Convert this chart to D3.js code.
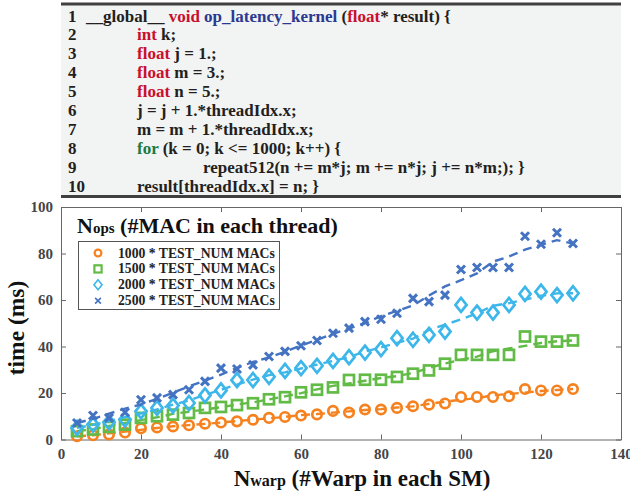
<!DOCTYPE html>
<html>
<head>
<meta charset="utf-8">
<script src="https://cdnjs.cloudflare.com/ajax/libs/d3/7.8.5/d3.min.js"></script>
<style>
  body { margin: 0; background: #fff; }
  text { font-family: "Liberation Serif", "Times New Roman", serif; font-weight: bold; }
</style>
</head>
<body>
<script>
  // ---- data ----
  const warps = [4, 8, 12, 16, 20, 24, 28, 32, 36, 40, 44, 48, 52, 56, 60, 64,
                 68, 72, 76, 80, 84, 88, 92, 96, 100, 104, 108, 112, 116, 120, 124, 128];
  const mac1000 = [1.4, 1.8, 2.2, 3.0, 4.8, 5.2, 5.6, 6.1, 6.8, 7.3, 7.8, 8.5, 9.3, 9.7, 10.3, 10.8,
                   12.3, 11.6, 12.9, 12.9, 13.6, 14.3, 15.0, 15.5, 18.3, 18.3, 18.3, 18.6, 21.7, 21.1, 21.1, 21.7];
  const mac1500 = [3.6, 4.3, 5.4, 6.4, 9.3, 10.0, 10.7, 11.4, 13.6, 14.0, 14.8, 15.6, 17.3, 18.2, 20.3, 21.4,
                   22.4, 25.6, 25.7, 25.7, 26.9, 28.3, 29.7, 32.6, 36.4, 36.4, 36.4, 36.4, 44.3, 42.1, 42.1, 42.6];
  const mac2000 = [5.0, 6.4, 7.4, 8.6, 12.1, 13.6, 14.6, 15.7, 19.0, 21.1, 25.5, 25.6, 27.0, 29.5, 30.7, 31.7,
                   33.8, 35.4, 37.4, 38.9, 43.6, 42.9, 45.0, 46.4, 57.9, 54.6, 54.6, 57.9, 62.6, 63.6, 62.1, 62.9];
  const mac2500 = [7.1, 10.3, 9.3, 11.7, 17.1, 17.9, 19.3, 21.4, 25.0, 30.7, 30.3, 32.1, 35.7, 37.9, 40.3, 42.6,
                   45.7, 47.9, 50.7, 51.7, 54.3, 60.7, 59.3, 62.1, 73.1, 74.0, 74.0, 74.0, 87.4, 84.0, 88.9, 84.3];
  const seriesNames = ["1000 * TEST_NUM MACs", "1500 * TEST_NUM MACs", "2000 * TEST_NUM MACs", "2500 * TEST_NUM MACs"];
  const xTicks = [0, 20, 40, 60, 80, 100, 120, 140];
  const yTicks = [0, 20, 40, 60, 80, 100];

  const K = "#231f20", R = "#c8102e", B = "#2b3990", G = "#1b7a3e";
  const codeLines = [
    [0, [["__global__ ", K], ["void ", R], ["op_latency_kernel ", B], ["(", K], ["float", R], ["* result) {", K]]],
    [1, [["int ", R], ["k;", K]]],
    [1, [["float ", R], ["j = 1.;", K]]],
    [1, [["float ", R], ["m = 3.;", K]]],
    [1, [["float ", R], ["n = 5.;", K]]],
    [1, [["j = j + 1.*threadIdx.x;", K]]],
    [1, [["m = m + 1.*threadIdx.x;", K]]],
    [1, [["for ", G], ["(k = 0; k <= 1000; k++) {", K]]],
    [2, [["repeat512(n += m*j; m += n*j; j += n*m;); }", K]]],
    [1, [["result[threadIdx.x] = n; }", K]]]
  ];

  const colors = ["#f5821f", "#62bb46", "#3db7ea", "#4473c2"];
  const series = [mac1000, mac1500, mac2000, mac2500];

  const svg = d3.select("body").append("svg")
    .attr("width", 630).attr("height", 496);

  // ---- code listing ----
  const code = svg.append("g");
  code.append("rect").attr("x", 61).attr("y", 4).attr("width", 560).attr("height", 193)
    .attr("fill", "#f2f3f3");
  code.append("line").attr("x1", 61).attr("x2", 621).attr("y1", 4).attr("y2", 4)
    .attr("stroke", "#404040").attr("stroke-width", 3);
  code.append("line").attr("x1", 61).attr("x2", 621).attr("y1", 196.5).attr("y2", 196.5)
    .attr("stroke", "#404040").attr("stroke-width", 3);
  const indents = [86, 137, 203];
  codeLines.forEach((ln, i) => {
    const yy = 21.5 + i * 18.9;
    code.append("text").attr("x", 68).attr("y", yy).attr("font-size", 17)
      .attr("fill", K).text(i + 1);
    const t = code.append("text").attr("x", indents[ln[0]]).attr("y", yy)
      .attr("font-size", 17).attr("xml:space", "preserve");
    ln[1].forEach(p => t.append("tspan").attr("fill", p[1]).text(p[0]));
  });

  // ---- chart ----
  const x = d3.scaleLinear().domain([0, 140]).range([61, 621]);
  const y = d3.scaleLinear().domain([0, 100]).range([439.5, 207]);
  const axisCol = "#666";

  svg.append("g").attr("transform", `translate(0,${y(0)})`)
    .call(d3.axisBottom(x).tickValues(xTicks).tickSizeInner(-5).tickSizeOuter(0).tickPadding(9));
  svg.append("g").attr("transform", `translate(${x(0)},0)`)
    .call(d3.axisLeft(y).tickValues(yTicks).tickSizeInner(-5).tickSizeOuter(0).tickPadding(8));
  svg.append("g").attr("transform", `translate(0,${y(100)})`)
    .call(d3.axisTop(x).tickValues(xTicks).tickSizeInner(-5).tickSizeOuter(0).tickFormat(""));
  svg.append("g").attr("transform", `translate(${x(140)},0)`)
    .call(d3.axisRight(y).tickValues(yTicks).tickSizeInner(-5).tickSizeOuter(0).tickFormat(""));
  svg.selectAll(".domain").attr("stroke", axisCol);
  svg.selectAll(".tick line").attr("stroke", axisCol);
  svg.selectAll(".tick text").attr("font-family", "Liberation Serif").attr("font-weight", "bold")
    .attr("font-size", 15).attr("fill", "#454545");

  // MATLAB-style 5 point moving average for the dashed trend lines
  function smooth(v) {
    return v.map((_, i) => {
      const h = Math.min(2, i, v.length - 1 - i);
      let s = 0;
      for (let j = i - h; j <= i + h; j++) s += v[j];
      return s / (2 * h + 1);
    });
  }

  const diamond = "M0,-7L5.6,0L0,7L-5.6,0Z";
  const cross = "M-4,-4L4,4M-4,4L4,-4";
  function marker(g, k, scale) {
    const s = scale || 1;
    if (k === 0) g.append("circle").attr("r", 4.7 * s);
    else if (k === 1) g.append("rect").attr("x", -5 * s).attr("y", -5 * s)
      .attr("width", 10 * s).attr("height", 10 * s);
    else if (k === 2) g.append("path").attr("d", diamond).attr("transform", `scale(${s})`);
    else g.append("path").attr("d", cross).attr("transform", `scale(${s})`);
  }

  const line = d3.line().x((d, i) => x(warps[i])).y(d => y(d));
  series.forEach((vals, k) => {
    const g = svg.append("g").attr("fill", "none").attr("stroke", colors[k]);
    g.append("path").attr("d", line(smooth(vals)))
      .attr("stroke-width", 2.4).attr("stroke-dasharray", "9,6");
    vals.forEach((v, i) => {
      const m = g.append("g").attr("transform", `translate(${x(warps[i])},${y(v)})`)
        .attr("stroke-width", k === 3 ? 3 : 2.7);
      marker(m, k);
    });
  });

  // ---- legend ----
  const lg = svg.append("g");
  const title = lg.append("text").attr("x", 77).attr("y", 233).attr("font-size", 22).attr("fill", "#111");
  title.append("tspan").text("N");
  title.append("tspan").attr("font-size", 15).text("ops");
  title.append("tspan").text(" (#MAC in each thread)");
  lg.append("rect").attr("x", 78.5).attr("y", 241.5).attr("width", 201).attr("height", 68)
    .attr("fill", "#fff").attr("stroke", "#555").attr("stroke-width", 1);
  seriesNames.forEach((name, k) => {
    const yy = 253 + k * 15.9;
    const m = lg.append("g").attr("transform", `translate(98,${yy})`)
      .attr("fill", "none").attr("stroke", colors[k]).attr("stroke-width", 2.2);
    marker(m, k, 0.72);
    lg.append("text").attr("x", 118).attr("y", yy + 4.5).attr("font-size", 13.7)
      .attr("fill", "#222").text(name);
  });

  // ---- axis titles ----
  svg.append("text").attr("transform", "translate(24,328) rotate(-90)")
    .attr("text-anchor", "middle").attr("font-size", 23.5).attr("fill", "#111").text("time (ms)");
  const xl = svg.append("text").attr("x", 362).attr("y", 486).attr("text-anchor", "middle")
    .attr("font-size", 23).attr("fill", "#111");
  xl.append("tspan").text("N");
  xl.append("tspan").attr("font-size", 16).text("warp");
  xl.append("tspan").text(" (#Warp in each SM)");
</script>
</body>
</html>
